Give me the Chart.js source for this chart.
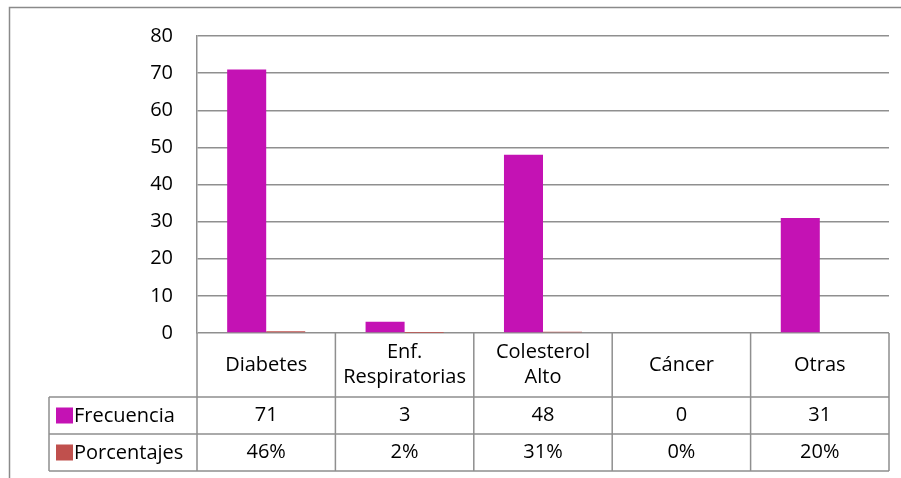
<!DOCTYPE html>
<html>
<head>
<meta charset="utf-8">
<style>
  html, body { margin: 0; padding: 0; background: #ffffff; }
  #wrap { position: relative; width: 901px; height: 478px; }
</style>
<script src="https://cdn.jsdelivr.net/npm/chart.js@4.4.1/dist/chart.umd.min.js"></script>
</head>
<body>
<div id="wrap"><canvas id="chart" width="901" height="478"></canvas></div>
<script>
// Enfermedades registradas: frecuencia y porcentaje
const categorias = [['Diabetes'], ['Enf.', 'Respiratorias'], ['Colesterol', 'Alto'], ['Cáncer'], ['Otras']];
const frecuencia = [71, 3, 48, 0, 31];
const porcentajes = [0.46, 0.02, 0.31, 0, 0.20];
const yTicks = [0, 10, 20, 30, 40, 50, 60, 70, 80];

const series = [
  { label: 'Frecuencia', data: frecuencia, color: '#C412B4', fmt: v => String(v) },
  { label: 'Porcentajes', data: porcentajes, color: '#C0504D', fmt: v => Math.round(v * 100) + '%' }
];

const FONT = '"Open Sans", "DejaVu Sans", sans-serif';
const LINE = '#8f8f8f';

// Data table under the plot plus the outer frame
const dataTable = {
  id: 'dataTable',
  afterDraw(chart) {
    const ctx = chart.ctx;
    const x = chart.scales.x;
    const area = chart.chartArea;
    const n = categorias.length;
    const step = (area.right - area.left) / n;
    const top = area.bottom;
    const rowCat = top + 64;
    const rowA = rowCat + 37;
    const rowB = rowA + 37;
    const legLeft = 49;

    ctx.save();
    // outer frame
    ctx.strokeStyle = '#8a8a8a';
    ctx.lineWidth = 1.5;
    ctx.beginPath();
    ctx.moveTo(9.5, 490);
    ctx.lineTo(9.5, 7.5);
    ctx.lineTo(910, 7.5);
    ctx.stroke();

    // grid lines of the table
    ctx.strokeStyle = LINE;
    ctx.lineWidth = 1.5;
    ctx.beginPath();
    [rowCat, rowA, rowB].forEach(y => {
      ctx.moveTo(legLeft, y);
      ctx.lineTo(area.right, y);
    });
    ctx.moveTo(legLeft, rowCat);
    ctx.lineTo(legLeft, rowB);
    for (let i = 0; i <= n; i++) {
      const xx = area.left + step * i;
      ctx.moveTo(xx, top);
      ctx.lineTo(xx, rowB);
    }
    ctx.stroke();

    // category labels and values
    ctx.fillStyle = '#000000';
    ctx.font = '20px ' + FONT;
    ctx.textAlign = 'center';
    ctx.textBaseline = 'middle';
    const lh = 25;
    categorias.forEach((lines, i) => {
      const cx = x.getPixelForValue(i);
      const cy = (top + rowCat) / 2;
      lines.forEach((t, k) => {
        ctx.fillText(t, cx, cy + (k - (lines.length - 1) / 2) * lh);
      });
      ctx.fillText(series[0].fmt(series[0].data[i]), cx, (rowCat + rowA) / 2);
      ctx.fillText(series[1].fmt(series[1].data[i]), cx, (rowA + rowB) / 2);
    });

    // legend keys in the row headers
    ctx.textAlign = 'left';
    [[rowCat, rowA], [rowA, rowB]].forEach(([a, b], k) => {
      const cy = (a + b) / 2;
      ctx.fillStyle = series[k].color;
      ctx.fillRect(56, cy - 8, 17, 16);
      ctx.fillStyle = '#000000';
      ctx.fillText(series[k].label, 74, cy + 1);
    });
    ctx.restore();
  }
};

new Chart(document.getElementById('chart'), {
  type: 'bar',
  data: {
    labels: categorias.map(c => c.join(' ')),
    datasets: series.map(s => ({
      label: s.label,
      data: s.data,
      backgroundColor: s.color,
      borderWidth: 0,
      categoryPercentage: 0.564,
      barPercentage: 1.0
    }))
  },
  options: {
    responsive: false,
    animation: false,
    events: [],
    layout: { padding: { left: 0, right: 12, top: 32, bottom: 145 } },
    plugins: { legend: { display: false }, tooltip: { enabled: false } },
    scales: {
      x: { display: false },
      y: {
        min: 0,
        max: 80,
        afterBuildTicks(scale) { scale.ticks = yTicks.map(v => ({ value: v })); },
        afterFit(scale) { scale.width = 197; },
        grid: { color: LINE, lineWidth: 1.5, drawTicks: false },
        border: { display: true, color: LINE, width: 1.5 },
        ticks: { padding: 24, color: '#000000', font: { family: FONT, size: 20 } }
      }
    }
  },
  plugins: [dataTable]
});
</script>
</body>
</html>
